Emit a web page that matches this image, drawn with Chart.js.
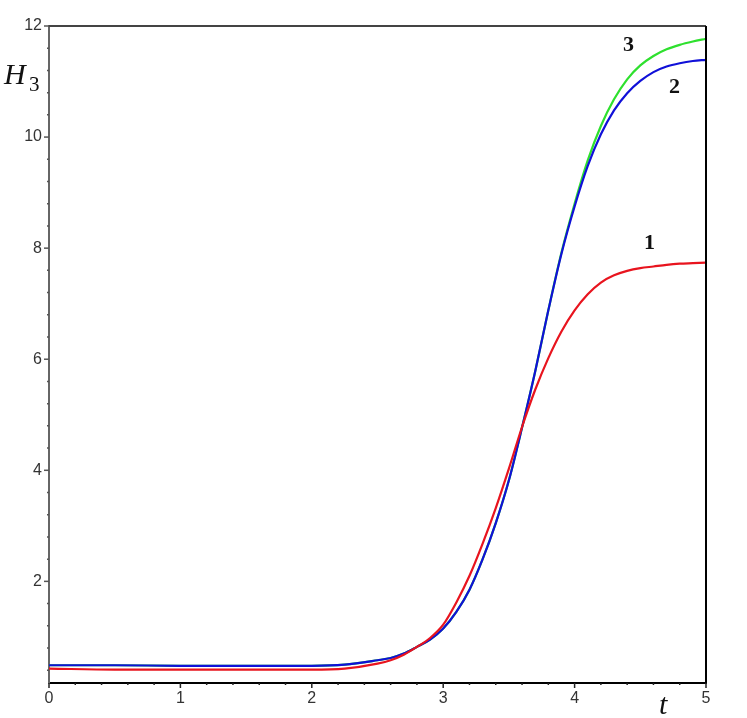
<!DOCTYPE html>
<html>
<head>
<meta charset="utf-8">
<script src="https://cdn.jsdelivr.net/npm/chart.js@4.4.0/dist/chart.umd.min.js"></script>
<style>
  html, body { margin: 0; padding: 0; background: #ffffff; }
  #wrap { width: 747px; height: 718px; position: relative; }
</style>
</head>
<body>
<div id="wrap"><canvas id="c" width="747" height="718"></canvas></div>
<script>
// ---- data ----
const tValues = [0, 0.5, 1, 1.5, 2, 2.25, 2.5, 2.6, 2.7, 2.8, 2.9, 3.0, 3.1, 3.2, 3.3, 3.4, 3.5, 3.6, 3.7, 3.8, 3.9, 4.0, 4.1, 4.2, 4.3, 4.4, 4.5, 4.6, 4.7, 4.8, 4.9, 5.0];
const curve1 = [0.43, 0.41, 0.41, 0.41, 0.41, 0.43, 0.52, 0.58, 0.68, 0.82, 0.98, 1.22, 1.62, 2.10, 2.68, 3.32, 4.03, 4.78, 5.45, 6.02, 6.50, 6.88, 7.17, 7.38, 7.51, 7.59, 7.64, 7.67, 7.70, 7.72, 7.73, 7.74];
const curve2 = [0.49, 0.49, 0.48, 0.48, 0.48, 0.50, 0.58, 0.62, 0.70, 0.82, 0.95, 1.15, 1.45, 1.85, 2.40, 3.05, 3.82, 4.77, 5.78, 6.88, 7.90, 8.75, 9.48, 10.05, 10.48, 10.79, 11.01, 11.17, 11.27, 11.33, 11.37, 11.39];
const curve3 = [0.49, 0.49, 0.48, 0.48, 0.48, 0.50, 0.58, 0.62, 0.70, 0.82, 0.95, 1.15, 1.45, 1.85, 2.40, 3.05, 3.82, 4.77, 5.78, 6.88, 7.92, 8.80, 9.58, 10.20, 10.68, 11.04, 11.29, 11.46, 11.58, 11.66, 11.72, 11.77];
const xTickLabels = [0, 1, 2, 3, 4, 5];
const yTickLabels = [2, 4, 6, 8, 10, 12];
const curveNames = ['1', '2', '3'];
// label anchor points (in data units)
const curveLabelT = [4.57, 4.76, 4.41];
const curveLabelY = [8.09, 10.89, 11.66];

const toPts = (ys) => tValues.map((t, i) => ({ x: t, y: ys[i] }));

const decor = {
  id: 'decor',
  afterDraw(chart) {
    const ctx = chart.ctx;
    const xs = chart.scales.x, ys = chart.scales.y;
    const a = chart.chartArea;
    ctx.save();
    // top and right frame
    ctx.lineWidth = 2;
    ctx.strokeStyle = '#444';
    ctx.beginPath(); ctx.moveTo(a.left, a.top); ctx.lineTo(a.right, a.top); ctx.stroke();
    ctx.strokeStyle = '#000';
    ctx.beginPath(); ctx.moveTo(a.right, a.top); ctx.lineTo(a.right, a.bottom); ctx.stroke();
    // y ticks
    ctx.lineWidth = 1.5;
    ctx.strokeStyle = '#555';
    for (let k = 1; k <= 30; k++) {
      const v = k * 0.4;
      if (v < ys.min || v > ys.max + 1e-6) continue;
      const p = ys.getPixelForValue(v);
      const major = Math.abs(v / 2 - Math.round(v / 2)) < 1e-6;
      ctx.beginPath();
      ctx.moveTo(a.left - (major ? 5 : 2), p);
      ctx.lineTo(a.left, p);
      ctx.stroke();
    }
    // x ticks
    ctx.strokeStyle = '#222';
    for (let k = 0; k <= 25; k++) {
      const v = k * 0.2;
      const p = xs.getPixelForValue(v);
      const major = k % 5 === 0;
      ctx.beginPath();
      ctx.moveTo(p, a.bottom);
      ctx.lineTo(p, a.bottom + (major ? 5 : 2));
      ctx.stroke();
    }
    // axis titles
    ctx.fillStyle = '#111';
    ctx.textBaseline = 'alphabetic';
    ctx.textAlign = 'left';
    ctx.font = 'italic 30px "Liberation Serif", "DejaVu Serif", serif';
    ctx.fillText('H', 4, 84);
    ctx.font = '21px "Liberation Serif", "DejaVu Serif", serif';
    ctx.fillText('3', 29, 91);
    ctx.font = 'italic 30px "Liberation Serif", "DejaVu Serif", serif';
    ctx.fillText('t', 659, 714);
    // curve labels
    ctx.font = 'bold 22px "Liberation Serif", "DejaVu Serif", serif';
    ctx.textAlign = 'center';
    ctx.textBaseline = 'middle';
    for (let i = 0; i < curveNames.length; i++) {
      ctx.fillText(curveNames[i], xs.getPixelForValue(curveLabelT[i]), ys.getPixelForValue(curveLabelY[i]));
    }
    ctx.restore();
  }
};

new Chart(document.getElementById('c'), {
  type: 'line',
  data: {
    datasets: [
      { label: '1', data: toPts(curve1), borderColor: '#e8141e', borderWidth: 2.2 },
      { label: '2', data: toPts(curve2), borderColor: '#1010d8', borderWidth: 2.2 },
      { label: '3', data: toPts(curve3), borderColor: '#2ee02e', borderWidth: 2.2 }
    ]
  },
  options: {
    responsive: false,
    animation: false,
    devicePixelRatio: 1,
    layout: { padding: { left: 0, right: 41, top: 26, bottom: 0 } },
    elements: {
      point: { radius: 0 },
      line: { tension: 0.4, cubicInterpolationMode: 'monotone', fill: false }
    },
    plugins: { legend: { display: false }, tooltip: { enabled: false } },
    scales: {
      x: {
        type: 'linear', min: 0, max: 5,
        afterBuildTicks: (s) => { s.ticks = xTickLabels.map(v => ({ value: v })); },
        afterFit: (s) => { s.height = 35; },
        grid: { display: false, drawTicks: false },
        border: { display: true, color: '#000', width: 2 },
        ticks: { padding: 6, color: '#333', font: { family: '"Liberation Sans", Arial, sans-serif', size: 16 }, maxRotation: 0, autoSkip: false, callback: (v) => String(v) }
      },
      y: {
        type: 'linear', min: 0.17, max: 12,
        afterBuildTicks: (s) => { s.ticks = yTickLabels.map(v => ({ value: v })); },
        afterFit: (s) => { s.width = 49; },
        grid: { display: false, drawTicks: false },
        border: { display: true, color: '#666', width: 2 },
        ticks: { padding: 7, color: '#333', font: { family: '"Liberation Sans", Arial, sans-serif', size: 16 }, autoSkip: false, callback: (v) => String(v) }
      }
    }
  },
  plugins: [decor]
});
</script>
</body>
</html>
